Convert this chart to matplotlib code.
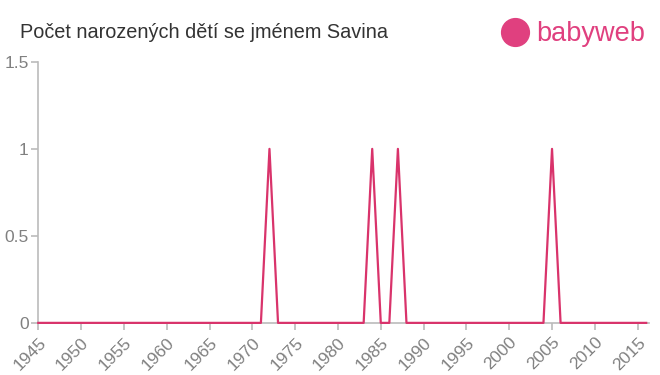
import matplotlib.pyplot as plt
from matplotlib.lines import Line2D

plt.rcParams['font.family'] = ['Liberation Sans', 'DejaVu Sans']

# Počet narozených dětí se jménem Savina
roky = list(range(1945, 2017))
pocty = [0] * len(roky)
for r in [1972, 1984, 1987, 2005]:
    pocty[roky.index(r)] = 1

fig = plt.figure(figsize=(6.6, 3.75), dpi=100)
ax = fig.add_axes([0.058, 0.139, 0.925, 0.696])

ax.plot(roky, pocty, color='#d9336b', linewidth=1.6, zorder=3, clip_on=False)

ax.set_xlim(1945, 2016.3)
ax.set_ylim(0, 1.5)
ax.set_xticks(range(1945, 2016, 5))
ax.set_yticks([0, 0.5, 1, 1.5])
ax.set_yticklabels(['0', '0.5', '1', '1.5'])
plt.setp(ax.get_xticklabels(), rotation=45, ha='right', rotation_mode='anchor')

for s in ['top', 'right']:
    ax.spines[s].set_visible(False)
for s in ['left', 'bottom']:
    ax.spines[s].set_color('#bbbbbb')
    ax.spines[s].set_linewidth(1.2)
ax.tick_params(colors='#bbbbbb', labelcolor='#808080', labelsize=12.5, length=5, width=1.2)
ax.tick_params(axis='y', pad=2)

fig.text(0.03, 0.912, 'Počet narozených dětí se jménem Savina', fontsize=14.3, color='#333333',
         va='center', ha='left')

# logo
fig.add_artist(Line2D([0.78], [0.915], transform=fig.transFigure, marker='o',
                      markersize=20, color='#e0407f', linestyle='none'))
fig.text(0.813, 0.91, 'babyweb', fontsize=19.5, color='#e0407f', va='center', ha='left')

fig.savefig('out.png')
